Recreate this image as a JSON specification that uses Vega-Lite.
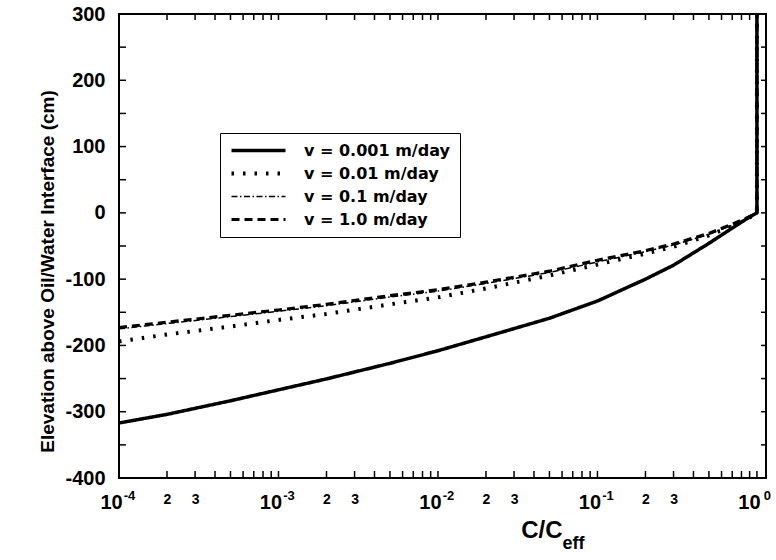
{
  "$schema": "https://vega.github.io/schema/vega-lite/v6.json",
  "width": 647,
  "height": 464,
  "autosize": {"type": "none"},
  "padding": {"left": 119, "top": 14, "right": 10, "bottom": 82},
  "background": "white",
  "config": {
    "view": {"stroke": "black", "strokeWidth": 2},
    "font": "Liberation Sans"
  },
  "datasets": {
    "curves": [
      {"v": "v = 0.001 m/day", "c": 0.0001, "z": -317},
      {"v": "v = 0.001 m/day", "c": 0.0002, "z": -304},
      {"v": "v = 0.001 m/day", "c": 0.0005, "z": -283.5},
      {"v": "v = 0.001 m/day", "c": 0.001, "z": -267},
      {"v": "v = 0.001 m/day", "c": 0.002, "z": -250.5},
      {"v": "v = 0.001 m/day", "c": 0.005, "z": -227},
      {"v": "v = 0.001 m/day", "c": 0.01, "z": -208},
      {"v": "v = 0.001 m/day", "c": 0.02, "z": -187},
      {"v": "v = 0.001 m/day", "c": 0.05, "z": -159},
      {"v": "v = 0.001 m/day", "c": 0.1, "z": -133},
      {"v": "v = 0.001 m/day", "c": 0.2, "z": -100},
      {"v": "v = 0.001 m/day", "c": 0.3, "z": -79},
      {"v": "v = 0.001 m/day", "c": 0.5, "z": -46},
      {"v": "v = 0.001 m/day", "c": 0.7, "z": -23},
      {"v": "v = 0.001 m/day", "c": 0.85, "z": -10},
      {"v": "v = 0.001 m/day", "c": 0.95, "z": -3},
      {"v": "v = 0.001 m/day", "c": 1, "z": 0},
      {"v": "v = 0.001 m/day", "c": 1, "z": 300},

      {"v": "v = 0.01 m/day", "c": 0.0001, "z": -194},
      {"v": "v = 0.01 m/day", "c": 0.0002, "z": -183.5},
      {"v": "v = 0.01 m/day", "c": 0.0005, "z": -171.5},
      {"v": "v = 0.01 m/day", "c": 0.001, "z": -161.5},
      {"v": "v = 0.01 m/day", "c": 0.002, "z": -152.5},
      {"v": "v = 0.01 m/day", "c": 0.005, "z": -138},
      {"v": "v = 0.01 m/day", "c": 0.01, "z": -127.5},
      {"v": "v = 0.01 m/day", "c": 0.02, "z": -114},
      {"v": "v = 0.01 m/day", "c": 0.05, "z": -94.5},
      {"v": "v = 0.01 m/day", "c": 0.1, "z": -78},
      {"v": "v = 0.01 m/day", "c": 0.2, "z": -61.5},
      {"v": "v = 0.01 m/day", "c": 0.3, "z": -51},
      {"v": "v = 0.01 m/day", "c": 0.5, "z": -34},
      {"v": "v = 0.01 m/day", "c": 0.7, "z": -20},
      {"v": "v = 0.01 m/day", "c": 0.85, "z": -10},
      {"v": "v = 0.01 m/day", "c": 0.95, "z": -4},
      {"v": "v = 0.01 m/day", "c": 1, "z": 0},
      {"v": "v = 0.01 m/day", "c": 1, "z": 300},

      {"v": "v = 0.1 m/day", "c": 0.0001, "z": -175},
      {"v": "v = 0.1 m/day", "c": 0.0002, "z": -167},
      {"v": "v = 0.1 m/day", "c": 0.0005, "z": -156.5},
      {"v": "v = 0.1 m/day", "c": 0.001, "z": -148.5},
      {"v": "v = 0.1 m/day", "c": 0.002, "z": -140},
      {"v": "v = 0.1 m/day", "c": 0.005, "z": -127},
      {"v": "v = 0.1 m/day", "c": 0.01, "z": -118},
      {"v": "v = 0.1 m/day", "c": 0.02, "z": -106.5},
      {"v": "v = 0.1 m/day", "c": 0.05, "z": -90},
      {"v": "v = 0.1 m/day", "c": 0.1, "z": -74},
      {"v": "v = 0.1 m/day", "c": 0.2, "z": -58.5},
      {"v": "v = 0.1 m/day", "c": 0.3, "z": -48.5},
      {"v": "v = 0.1 m/day", "c": 0.5, "z": -32.5},
      {"v": "v = 0.1 m/day", "c": 0.7, "z": -18.5},
      {"v": "v = 0.1 m/day", "c": 0.85, "z": -9},
      {"v": "v = 0.1 m/day", "c": 0.95, "z": -3.5},
      {"v": "v = 0.1 m/day", "c": 1, "z": 0},
      {"v": "v = 0.1 m/day", "c": 1, "z": 300},

      {"v": "v = 1.0 m/day", "c": 0.0001, "z": -173},
      {"v": "v = 1.0 m/day", "c": 0.0002, "z": -165},
      {"v": "v = 1.0 m/day", "c": 0.0005, "z": -154.5},
      {"v": "v = 1.0 m/day", "c": 0.001, "z": -146.5},
      {"v": "v = 1.0 m/day", "c": 0.002, "z": -138},
      {"v": "v = 1.0 m/day", "c": 0.005, "z": -125},
      {"v": "v = 1.0 m/day", "c": 0.01, "z": -116},
      {"v": "v = 1.0 m/day", "c": 0.02, "z": -104.5},
      {"v": "v = 1.0 m/day", "c": 0.05, "z": -88},
      {"v": "v = 1.0 m/day", "c": 0.1, "z": -71.5},
      {"v": "v = 1.0 m/day", "c": 0.2, "z": -57},
      {"v": "v = 1.0 m/day", "c": 0.3, "z": -47},
      {"v": "v = 1.0 m/day", "c": 0.5, "z": -31},
      {"v": "v = 1.0 m/day", "c": 0.7, "z": -17},
      {"v": "v = 1.0 m/day", "c": 0.85, "z": -8.5},
      {"v": "v = 1.0 m/day", "c": 0.95, "z": -3},
      {"v": "v = 1.0 m/day", "c": 1, "z": 0},
      {"v": "v = 1.0 m/day", "c": 1, "z": 300}
    ],
    "logTicks": [
      {"t": 0.0001}, {"t": 0.0002}, {"t": 0.0003}, {"t": 0.0004}, {"t": 0.0005}, {"t": 0.0006}, {"t": 0.0007}, {"t": 0.0008}, {"t": 0.0009},
      {"t": 0.001}, {"t": 0.002}, {"t": 0.003}, {"t": 0.004}, {"t": 0.005}, {"t": 0.006}, {"t": 0.007}, {"t": 0.008}, {"t": 0.009},
      {"t": 0.01}, {"t": 0.02}, {"t": 0.03}, {"t": 0.04}, {"t": 0.05}, {"t": 0.06}, {"t": 0.07}, {"t": 0.08}, {"t": 0.09},
      {"t": 0.1}, {"t": 0.2}, {"t": 0.3}, {"t": 0.4}, {"t": 0.5}, {"t": 0.6}, {"t": 0.7}, {"t": 0.8}, {"t": 0.9},
      {"t": 1}
    ],
    "elevTicks": [
      {"t": -400}, {"t": -350}, {"t": -300}, {"t": -250}, {"t": -200}, {"t": -150}, {"t": -100}, {"t": -50},
      {"t": 0}, {"t": 50}, {"t": 100}, {"t": 150}, {"t": 200}, {"t": 250}, {"t": 300}
    ]
  },
  "layer": [
    {
      "data": {"name": "curves"},
      "mark": {"type": "line", "color": "black", "strokeCap": "butt", "strokeJoin": "round"},
      "encoding": {
        "x": {
          "field": "c", "type": "quantitative",
          "scale": {"type": "log", "domain": [0.0001, 1.14], "nice": false},
          "axis": {
            "orient": "bottom",
            "values": [0.0001, 0.0002, 0.0003, 0.001, 0.002, 0.003, 0.01, 0.02, 0.03, 0.1, 0.2, 0.3, 1],
            "labelExpr": "indexof([0.0001, 0.001, 0.01, 0.1, 1], datum.value) >= 0 ? '10' : (datum.value / pow(10, floor(log(datum.value) / LN10 + 1e-9)) < 2.5 ? '2' : '3')",
            "labelFontSize": {"condition": {"test": "indexof([0.0001, 0.001, 0.01, 0.1, 1], datum.value) >= 0", "value": 20}, "value": 14},
            "labelOffset": {"condition": {"test": "indexof([0.0001, 0.001, 0.01, 0.1, 1], datum.value) >= 0", "value": -8}, "value": 0},
            "labelPadding": 14,
            "labelBaseline": "top",
            "labelFlush": false,
            "labelOverlap": false,
            "labelBound": false,
            "labelFont": "Liberation Sans",
            "labelFontWeight": "bold",
            "labelColor": "black",
            "ticks": false,
            "domain": false,
            "grid": false,
            "title": "C/C",
            "titleFont": "Liberation Sans",
            "titleFontSize": 24,
            "titleFontWeight": "bold",
            "titleColor": "black",
            "titleX": 443,
            "titleY": 59,
            "titleAlign": "right",
            "titleBaseline": "alphabetic"
          }
        },
        "y": {
          "field": "z", "type": "quantitative",
          "scale": {"domain": [-400, 300], "nice": false},
          "axis": {
            "orient": "left",
            "values": [-400, -300, -200, -100, 0, 100, 200, 300],
            "labelExpr": "'' + datum.value",
            "labelFont": "Liberation Sans",
            "labelFontWeight": "bold",
            "labelFontSize": 20,
            "labelColor": "black",
            "labelPadding": 14,
            "labelOverlap": false,
            "labelBound": false,
            "ticks": false,
            "domain": false,
            "grid": false,
            "title": "Elevation above Oil/Water Interface (cm)",
            "titleFont": "Liberation Sans",
            "titleFontSize": 19,
            "titleFontWeight": "bold",
            "titleColor": "black",
            "titleX": -66,
            "titleY": 257,
            "titleAngle": -90,
            "titleAlign": "center",
            "titleBaseline": "alphabetic"
          }
        },
        "strokeDash": {
          "field": "v", "type": "nominal",
          "scale": {
            "domain": ["v = 0.001 m/day", "v = 0.01 m/day", "v = 0.1 m/day", "v = 1.0 m/day"],
            "range": [[1, 0], [2.5, 9], [6, 2.5, 1.5, 2.5], [8, 5]]
          },
          "legend": {
            "title": null,
            "orient": "none",
            "legendX": 101,
            "legendY": 119,
            "padding": 9.5,
            "strokeColor": "black",
            "fillColor": "white",
            "cornerRadius": 0,
            "symbolType": "stroke",
            "symbolSize": 2916,
            "symbolStrokeColor": "black",
            "clipHeight": 16,
            "rowPadding": 7,
            "labelOffset": 16.5,
            "labelFont": "DejaVu Sans",
            "labelFontWeight": "bold",
            "labelFontSize": 16,
            "labelColor": "black",
            "labelLimit": 400
          }
        },
        "strokeWidth": {
          "field": "v", "type": "nominal",
          "scale": {
            "type": "ordinal",
            "domain": ["v = 0.001 m/day", "v = 0.01 m/day", "v = 0.1 m/day", "v = 1.0 m/day"],
            "range": [3.5, 4, 1.5, 3.2]
          }
        },
        "order": {"field": "z", "type": "quantitative"}
      }
    },
    {
      "data": {"name": "curves"},
      "mark": {"type": "point", "opacity": 0},
      "encoding": {
        "x": {
          "field": "c", "type": "quantitative",
          "scale": {"type": "log", "domain": [0.0001, 1.14], "nice": false},
          "axis": {
            "orient": "bottom",
            "values": [0.0001, 0.001, 0.01, 0.1, 1],
            "labelExpr": "'' + round(log(datum.value) / LN10)",
            "labelFont": "Liberation Sans",
            "labelFontWeight": "bold",
            "labelFontSize": 13,
            "labelColor": "black",
            "labelOffset": 10,
            "labelPadding": 11,
            "labelBaseline": "top",
            "labelFlush": false,
            "labelOverlap": false,
            "labelBound": false,
            "ticks": false,
            "domain": false,
            "grid": false,
            "title": "eff",
            "titleFont": "Liberation Sans",
            "titleFontSize": 18,
            "titleFontWeight": "bold",
            "titleColor": "black",
            "titleX": 443,
            "titleY": 70,
            "titleAlign": "left",
            "titleBaseline": "alphabetic"
          }
        },
        "y": {
          "field": "z", "type": "quantitative",
          "scale": {"domain": [-400, 300], "nice": false},
          "axis": null
        }
      }
    },
    {
      "data": {"name": "logTicks"},
      "mark": {"type": "tick", "orient": "vertical", "color": "black", "size": 7, "thickness": 1.5, "yOffset": -3.5, "opacity": 1},
      "encoding": {
        "x": {"field": "t", "type": "quantitative", "scale": {"type": "log", "domain": [0.0001, 1.14], "nice": false}, "axis": null},
        "y": {"datum": -400, "type": "quantitative", "scale": {"domain": [-400, 300], "nice": false}, "axis": null}
      }
    },
    {
      "data": {"name": "logTicks"},
      "mark": {"type": "tick", "orient": "vertical", "color": "black", "size": 6, "thickness": 1.5, "yOffset": 3, "opacity": 1},
      "encoding": {
        "x": {"field": "t", "type": "quantitative", "scale": {"type": "log", "domain": [0.0001, 1.14], "nice": false}, "axis": null},
        "y": {"datum": 300, "type": "quantitative", "scale": {"domain": [-400, 300], "nice": false}, "axis": null}
      }
    },
    {
      "data": {"name": "elevTicks"},
      "mark": {"type": "tick", "orient": "horizontal", "color": "black", "size": 7, "thickness": 1.5, "xOffset": 3.5, "opacity": 1},
      "encoding": {
        "x": {"datum": 0.0001, "type": "quantitative", "scale": {"type": "log", "domain": [0.0001, 1.14], "nice": false}, "axis": null},
        "y": {"field": "t", "type": "quantitative", "scale": {"domain": [-400, 300], "nice": false}, "axis": null}
      }
    },
    {
      "data": {"name": "elevTicks"},
      "mark": {"type": "tick", "orient": "horizontal", "color": "black", "size": 5, "thickness": 1.5, "xOffset": -2.5, "opacity": 1},
      "encoding": {
        "x": {"datum": 1.14, "type": "quantitative", "scale": {"type": "log", "domain": [0.0001, 1.14], "nice": false}, "axis": null},
        "y": {"field": "t", "type": "quantitative", "scale": {"domain": [-400, 300], "nice": false}, "axis": null}
      }
    }
  ],
  "resolve": {"axis": {"x": "independent", "y": "independent"}}
}
